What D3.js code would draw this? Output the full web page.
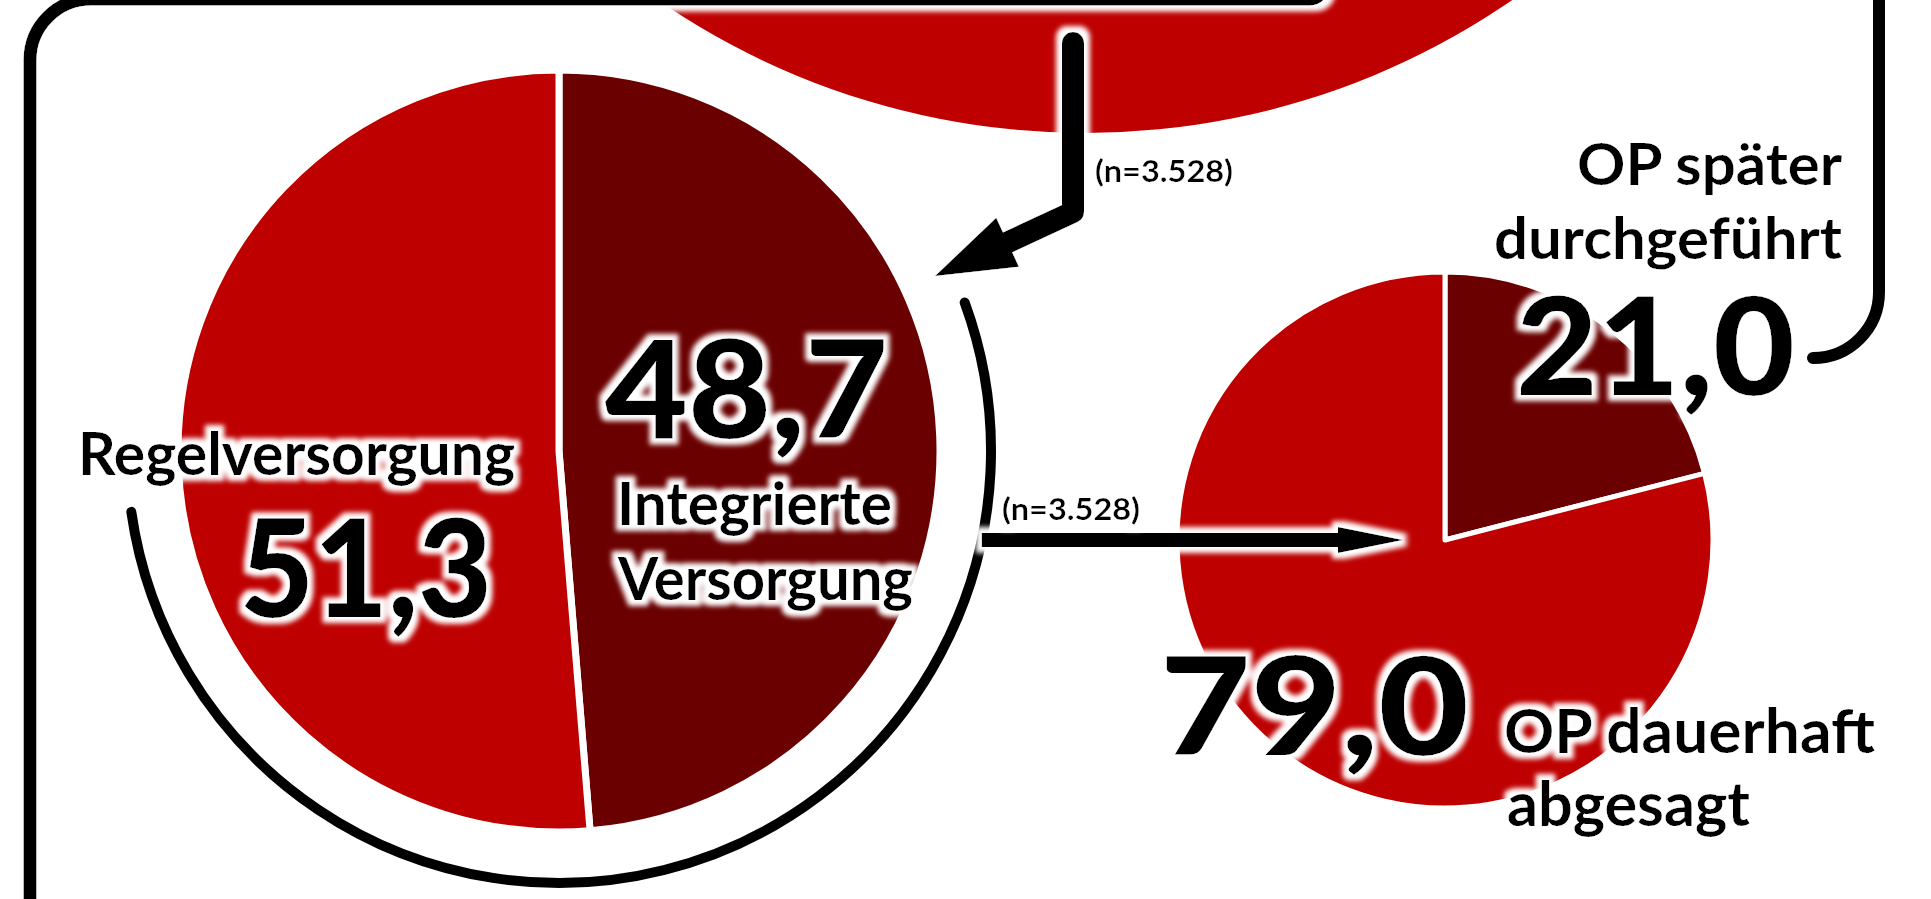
<!DOCTYPE html>
<html>
<head>
<meta charset="utf-8">
<script src="https://cdn.jsdelivr.net/npm/d3@7"></script>
<style>
  body { margin: 0; background: #fff; }
  svg { display: block; }
  text { font-family: "Lato", "Open Sans", sans-serif; fill: #000; }
</style>
</head>
<body>
<script>
// data
var totalValues = [100];                       // ganze Stichprobe (oben, angeschnitten)
var sampleSize = "3.528";
var mainCats = ["Integrierte Versorgung", "Regelversorgung"];
var mainValues = [48.7, 51.3];
var subCats = ["OP später durchgeführt", "OP dauerhaft abgesagt"];
var subValues = [21.0, 79.0];

var width = 1931, height = 899;
var red = "#be0000", darkRed = "#6b0000";

var de = d3.formatLocale({ decimal: ",", thousands: ".", grouping: [3], currency: ["", " €"] });
var fmt = de.format(".1f");

var color = d3.scaleOrdinal().domain([0, 1]).range([darkRed, red]);
var pie = d3.pie().sort(null);

var svg = d3.select("body").append("svg")
    .attr("width", width)
    .attr("height", height);

// white halo filter for text and arrows
var f = svg.append("defs").append("filter")
    .attr("id", "halo")
    .attr("filterUnits", "userSpaceOnUse")
    .attr("x", -50).attr("y", -50).attr("width", width + 100).attr("height", height + 100);
f.append("feMorphology").attr("in", "SourceAlpha").attr("operator", "dilate").attr("radius", 6).attr("result", "d");
f.append("feGaussianBlur").attr("in", "d").attr("stdDeviation", 2.5).attr("result", "b");
f.append("feFlood").attr("flood-color", "#fff");
f.append("feComposite").attr("in2", "b").attr("operator", "in").attr("result", "w");
var m = f.append("feMerge");
m.append("feMergeNode").attr("in", "w");
m.append("feMergeNode").attr("in", "SourceGraphic");

// pie geometry
var top_ = { cx: 1085, cy: -620, r: 753 };
var main = { cx: 559, cy: 451, r: 378, ring: 432 };
var sub = { cx: 1445, cy: 540, r: 266 };

// top pie (only bottom visible)
svg.append("g")
    .attr("transform", "translate(" + top_.cx + "," + top_.cy + ")")
  .selectAll("path")
  .data(pie(totalValues))
  .join("path")
    .attr("d", d3.arc().innerRadius(0).outerRadius(top_.r))
    .attr("fill", red);

// frame
var fr = d3.path();
fr.moveTo(30, height + 10);
fr.lineTo(30, 60);
fr.arc(91, 60, 61, Math.PI, 1.5 * Math.PI);
fr.lineTo(1310, -1);
fr.arc(1310, -14, 13, Math.PI / 2, 0, true);
svg.append("path")
    .attr("d", fr.toString())
    .attr("fill", "none")
    .attr("stroke", "#000")
    .attr("stroke-width", 13)
    .attr("filter", "url(#halo)");

// right bracket from top down to 21,0
var br = d3.path();
br.moveTo(1879, -10);
br.lineTo(1879, 292);
br.arc(1813, 292, 66, 0, Math.PI / 2);
svg.append("path")
    .attr("d", br.toString())
    .attr("fill", "none")
    .attr("stroke", "#000")
    .attr("stroke-width", 12)
    .attr("stroke-linecap", "round");

// main pie
svg.append("g")
    .attr("transform", "translate(" + main.cx + "," + main.cy + ")")
  .selectAll("path")
  .data(pie(mainValues))
  .join("path")
    .attr("d", d3.arc().innerRadius(0).outerRadius(main.r + 3))
    .attr("fill", function(d, i) { return color(i); })
    .attr("stroke", "#fff")
    .attr("stroke-width", 7)
    .attr("stroke-linejoin", "round");

// ring around main pie
var a0 = 69.9 * Math.PI / 180, a1 = 261.9 * Math.PI / 180;
var rg = d3.path();
rg.arc(main.cx, main.cy, main.ring, a0 - Math.PI / 2, a1 - Math.PI / 2);
svg.append("path")
    .attr("d", rg.toString())
    .attr("fill", "none")
    .attr("stroke", "#000")
    .attr("stroke-width", 10)
    .attr("stroke-linecap", "round");

// sub pie
svg.append("g")
    .attr("transform", "translate(" + sub.cx + "," + sub.cy + ")")
  .selectAll("path")
  .data(pie(subValues))
  .join("path")
    .attr("d", d3.arc().innerRadius(0).outerRadius(sub.r + 2))
    .attr("fill", function(d, i) { return color(i); })
    .attr("stroke", "#fff")
    .attr("stroke-width", 5)
    .attr("stroke-linejoin", "round");

// arrows
function head(g, tip, dx, dy, len, half) {
    var l = Math.sqrt(dx * dx + dy * dy), ux = dx / l, uy = dy / l;
    var bx = tip[0] - ux * len, by = tip[1] - uy * len;
    g.append("path")
        .attr("d", d3.line()([
            tip,
            [bx - uy * half, by + ux * half],
            [bx + uy * half, by - ux * half]
        ]) + "Z")
        .attr("fill", "#000");
}

var arrows = svg.append("g").attr("filter", "url(#halo)");

// top -> main
var tipA = [935, 276], bend = [1073, 212];
var dA = [tipA[0] - bend[0], tipA[1] - bend[1]];
var lA = Math.sqrt(dA[0] * dA[0] + dA[1] * dA[1]);
arrows.append("path")
    .attr("d", d3.line()([[1073, 43], bend, [tipA[0] - dA[0] / lA * 75, tipA[1] - dA[1] / lA * 75]]))
    .attr("fill", "none")
    .attr("stroke", "#000")
    .attr("stroke-width", 22)
    .attr("stroke-linecap", "round")
    .attr("stroke-linejoin", "round");
head(arrows, tipA, dA[0], dA[1], 80, 27);

// main -> sub
var ay = sub.cy;
var ax0 = main.cx + Math.sqrt(main.ring * main.ring - (ay - main.cy) * (ay - main.cy));
var tipB = [sub.cx - 42, ay];
arrows.append("line")
    .attr("x1", ax0).attr("y1", ay)
    .attr("x2", tipB[0] - 60).attr("y2", ay)
    .attr("stroke", "#000")
    .attr("stroke-width", 14);
head(arrows, tipB, 1, 0, 65, 13);

// labels
var labels = [
    { t: mainCats[1], x: 78, y: 475, w: 437, s: 60, b: 700 },
    { t: fmt(mainValues[1]), x: 240, y: 617, w: 252, s: 136, b: 900 },
    { t: fmt(mainValues[0]), x: 605, y: 438, w: 283, s: 136, b: 900 },
    { t: "Integrierte", x: 617, y: 525, w: 275, s: 60, b: 700 },
    { t: "Versorgung", x: 618, y: 600, w: 295, s: 60, b: 700 },
    { t: "(n=" + sampleSize + ")", x: 1095, y: 182, w: 138, s: 30, b: 700 },
    { t: "(n=" + sampleSize + ")", x: 1002, y: 520, w: 138, s: 30, b: 700 },
    { t: "OP später", x: 1577, y: 185, w: 265, s: 58, b: 700 },
    { t: "durchgeführt", x: 1494, y: 259, w: 348, s: 58, b: 700 },
    { t: fmt(subValues[0]), x: 1516, y: 395, w: 279, s: 136, b: 900 },
    { t: fmt(subValues[1]), x: 1160, y: 755, w: 309, s: 136, b: 900 },
    { t: "OP dauerhaft", x: 1504, y: 753, w: 371, s: 62, b: 700 },
    { t: "abgesagt", x: 1507, y: 826, w: 243, s: 62, b: 700 }
];

svg.append("g")
    .attr("filter", "url(#halo)")
  .selectAll("text")
  .data(labels)
  .join("text")
    .attr("x", function(d) { return d.x; })
    .attr("y", function(d) { return d.y; })
    .attr("font-size", function(d) { return d.s + "px"; })
    .attr("font-weight", function(d) { return d.b; })
    .attr("textLength", function(d) { return d.w; })
    .attr("lengthAdjust", "spacingAndGlyphs")
    .text(function(d) { return d.t; });
</script>
</body>
</html>
